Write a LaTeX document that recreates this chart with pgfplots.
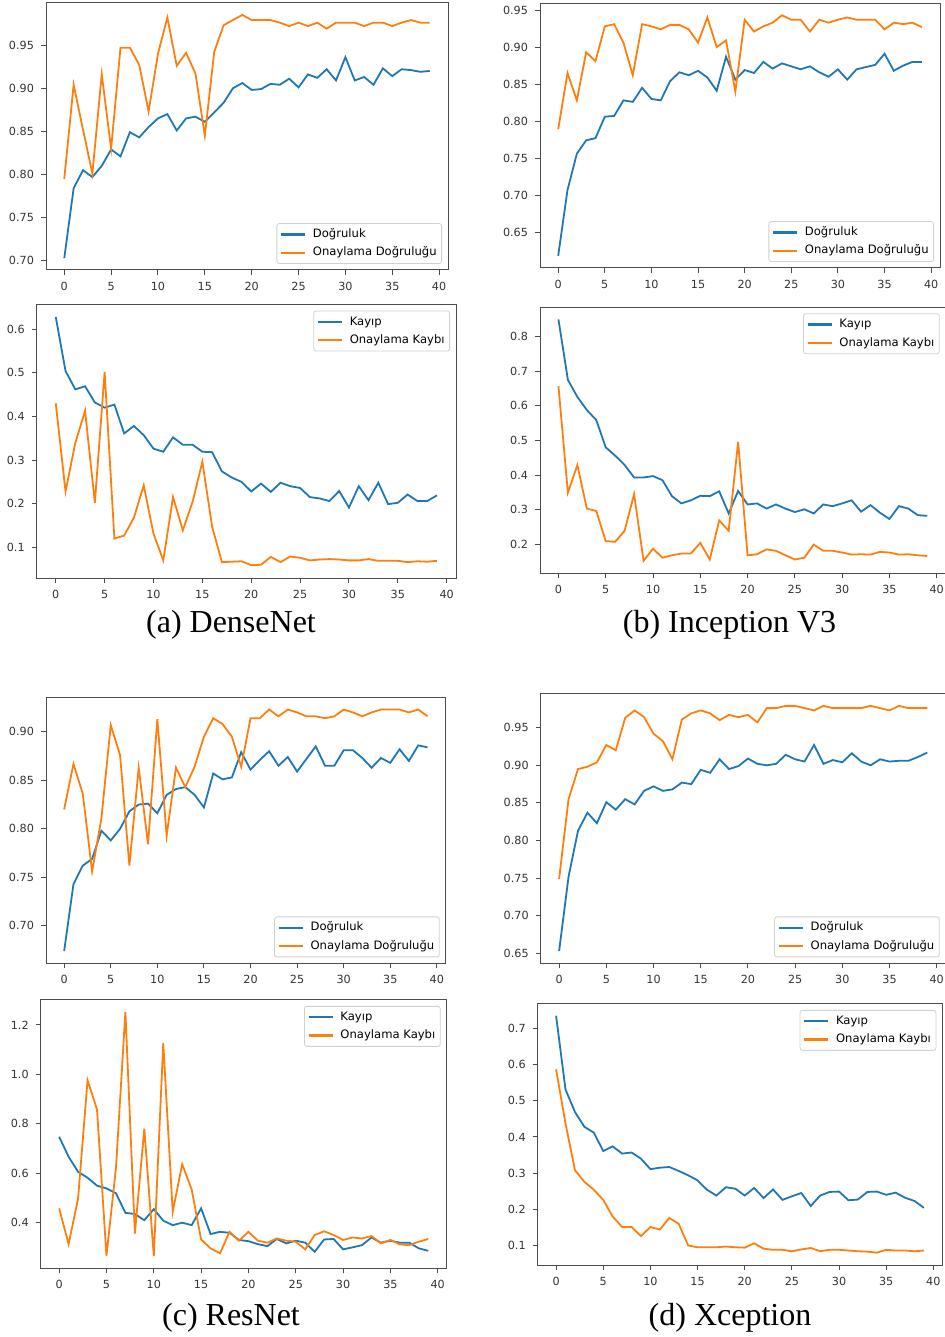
\documentclass[border=0pt]{standalone}
\usepackage{fontspec}
\setmainfont{DejaVu Sans}
\newfontfamily\capfont{Liberation Serif}
\usepackage{pgfplots}
\usepackage{pgfplotstable}
\pgfplotsset{compat=1.18}
\definecolor{mblue}{HTML}{1F77B4}
\definecolor{morange}{HTML}{FF7F0E}
\newcommand\tickfont{\fontsize{5.6}{6.7}\selectfont}
\newcommand\legfont{\fontsize{5.8}{7}\selectfont}

\pgfplotstableread{
e b o
0 0.703 0.795
1 0.784 0.904
2 0.805 0.852
3 0.797 0.801
4 0.810 0.916
5 0.829 0.830
6 0.821 0.947
7 0.849 0.947
8 0.843 0.927
9 0.855 0.873
10 0.865 0.940
11 0.870 0.982
12 0.851 0.926
13 0.865 0.941
14 0.867 0.917
15 0.861 0.845
16 0.872 0.942
17 0.883 0.973
18 0.900 0.979
19 0.906 0.985
20 0.898 0.979
21 0.899 0.979
22 0.905 0.979
23 0.904 0.976
24 0.911 0.972
25 0.901 0.976
26 0.916 0.972
27 0.912 0.976
28 0.922 0.969
29 0.909 0.976
30 0.936 0.976
31 0.909 0.976
32 0.913 0.972
33 0.904 0.976
34 0.923 0.976
35 0.914 0.972
36 0.922 0.976
37 0.921 0.979
38 0.919 0.976
39 0.920 0.976
}\tabAone

\pgfplotstableread{
e b o
0 0.628 0.430
1 0.504 0.228
2 0.462 0.339
3 0.469 0.413
4 0.432 0.202
5 0.420 0.502
6 0.427 0.120
7 0.361 0.127
8 0.378 0.168
9 0.357 0.242
10 0.326 0.131
11 0.319 0.070
12 0.352 0.215
13 0.335 0.139
14 0.335 0.204
15 0.319 0.296
16 0.318 0.147
17 0.274 0.066
18 0.260 0.067
19 0.250 0.068
20 0.228 0.059
21 0.246 0.060
22 0.227 0.078
23 0.248 0.066
24 0.240 0.079
25 0.236 0.076
26 0.215 0.070
27 0.212 0.072
28 0.206 0.073
29 0.229 0.072
30 0.191 0.070
31 0.240 0.070
32 0.208 0.073
33 0.248 0.069
34 0.199 0.069
35 0.202 0.069
36 0.221 0.066
37 0.206 0.068
38 0.206 0.067
39 0.219 0.069
}\tabAtwo

\pgfplotstableread{
e b o
0 0.618 0.789
1 0.707 0.865
2 0.756 0.828
3 0.774 0.893
4 0.777 0.881
5 0.806 0.928
6 0.807 0.931
7 0.828 0.906
8 0.826 0.862
9 0.845 0.931
10 0.830 0.928
11 0.828 0.924
12 0.854 0.930
13 0.866 0.930
14 0.862 0.924
15 0.868 0.906
16 0.859 0.940
17 0.841 0.900
18 0.887 0.909
19 0.856 0.840
20 0.869 0.937
21 0.865 0.921
22 0.880 0.928
23 0.871 0.933
24 0.878 0.943
25 0.874 0.937
26 0.870 0.937
27 0.874 0.921
28 0.866 0.937
29 0.860 0.933
30 0.870 0.937
31 0.856 0.940
32 0.870 0.937
33 0.873 0.937
34 0.876 0.937
35 0.891 0.924
36 0.868 0.933
37 0.875 0.931
38 0.880 0.933
39 0.880 0.927
}\tabBone

\pgfplotstableread{
e b o
0 0.850 0.657
1 0.675 0.349
2 0.626 0.429
3 0.588 0.303
4 0.559 0.296
5 0.480 0.209
6 0.456 0.207
7 0.429 0.239
8 0.393 0.345
9 0.393 0.152
10 0.397 0.187
11 0.385 0.161
12 0.339 0.168
13 0.318 0.173
14 0.327 0.173
15 0.340 0.204
16 0.339 0.156
17 0.353 0.269
18 0.289 0.239
19 0.354 0.496
20 0.315 0.168
21 0.318 0.171
22 0.303 0.185
23 0.315 0.181
24 0.303 0.168
25 0.293 0.156
26 0.301 0.161
27 0.289 0.199
28 0.315 0.181
29 0.310 0.181
30 0.318 0.176
31 0.327 0.170
32 0.294 0.171
33 0.313 0.170
34 0.291 0.178
35 0.273 0.176
36 0.310 0.170
37 0.303 0.171
38 0.284 0.168
39 0.282 0.166
}\tabBtwo

\pgfplotstableread{
e b o
0 0.674 0.820
1 0.743 0.867
2 0.762 0.836
3 0.769 0.756
4 0.798 0.811
5 0.788 0.907
6 0.800 0.876
7 0.818 0.762
8 0.825 0.863
9 0.826 0.784
10 0.816 0.913
11 0.835 0.793
12 0.841 0.863
13 0.843 0.843
14 0.835 0.864
15 0.822 0.895
16 0.857 0.914
17 0.851 0.908
18 0.853 0.895
19 0.879 0.864
20 0.861 0.914
21 0.871 0.914
22 0.880 0.923
23 0.865 0.916
24 0.874 0.923
25 0.859 0.920
26 0.872 0.916
27 0.885 0.916
28 0.865 0.914
29 0.865 0.916
30 0.881 0.923
31 0.881 0.920
32 0.873 0.916
33 0.863 0.920
34 0.873 0.923
35 0.868 0.923
36 0.882 0.923
37 0.870 0.920
38 0.886 0.923
39 0.884 0.916
}\tabCone

\pgfplotstableread{
e b o
0 0.747 0.457
1 0.666 0.312
2 0.605 0.497
3 0.581 0.976
4 0.549 0.857
5 0.538 0.265
6 0.518 0.619
7 0.439 1.253
8 0.434 0.355
9 0.409 0.780
10 0.454 0.264
11 0.407 1.127
12 0.389 0.443
13 0.399 0.636
14 0.389 0.534
15 0.457 0.331
16 0.353 0.295
17 0.362 0.275
18 0.358 0.362
19 0.329 0.326
20 0.324 0.362
21 0.312 0.326
22 0.304 0.318
23 0.333 0.335
24 0.315 0.326
25 0.326 0.322
26 0.318 0.291
27 0.281 0.349
28 0.331 0.364
29 0.333 0.349
30 0.291 0.329
31 0.299 0.339
32 0.308 0.335
33 0.339 0.345
34 0.318 0.315
35 0.326 0.329
36 0.318 0.311
37 0.318 0.308
38 0.295 0.322
39 0.285 0.333
}\tabCtwo

\pgfplotstableread{
e b o
0 0.653 0.749
1 0.752 0.855
2 0.813 0.895
3 0.837 0.898
4 0.823 0.904
5 0.851 0.927
6 0.841 0.920
7 0.855 0.963
8 0.848 0.973
9 0.866 0.964
10 0.872 0.942
11 0.866 0.932
12 0.868 0.908
13 0.877 0.961
14 0.875 0.969
15 0.894 0.973
16 0.890 0.969
17 0.908 0.960
18 0.895 0.967
19 0.899 0.964
20 0.909 0.967
21 0.902 0.957
22 0.900 0.976
23 0.902 0.976
24 0.914 0.979
25 0.908 0.979
26 0.905 0.976
27 0.927 0.973
28 0.902 0.979
29 0.907 0.976
30 0.904 0.976
31 0.916 0.976
32 0.905 0.976
33 0.900 0.979
34 0.908 0.976
35 0.905 0.973
36 0.906 0.979
37 0.906 0.976
38 0.911 0.976
39 0.917 0.976
}\tabDone

\pgfplotstableread{
e b o
0 0.735 0.587
1 0.531 0.437
2 0.469 0.308
3 0.428 0.276
4 0.412 0.254
5 0.361 0.226
6 0.374 0.180
7 0.354 0.151
8 0.357 0.151
9 0.340 0.126
10 0.311 0.151
11 0.315 0.144
12 0.317 0.176
13 0.306 0.160
14 0.294 0.100
15 0.280 0.095
16 0.254 0.095
17 0.238 0.095
18 0.261 0.097
19 0.257 0.095
20 0.238 0.094
21 0.259 0.106
22 0.231 0.091
23 0.255 0.088
24 0.226 0.088
25 0.236 0.084
26 0.245 0.089
27 0.209 0.093
28 0.238 0.084
29 0.248 0.088
30 0.249 0.088
31 0.225 0.086
32 0.227 0.084
33 0.248 0.083
34 0.249 0.080
35 0.240 0.088
36 0.246 0.086
37 0.232 0.086
38 0.223 0.084
39 0.204 0.086
}\tabDtwo

\pgfplotsset{
  panel/.style={
    scale only axis, anchor=south west,
    xmin=-1.95, xmax=40.95, xtick={0,5,...,40},
    tick align=outside, tick pos=left,
    major tick length=2.5pt,
    axis line style={black!70, line width=0.5pt},
    every tick/.style={black!70, line width=0.5pt},
    ticklabel style={font=\tickfont, text=black!80},
    /pgf/number format/assume math mode=true,
    legend cell align=left,
    legend image code/.code={\draw[##1, line width=1.15pt] (0pt,0pt) -- (12pt,0pt); \path (0pt,-1pt) (14.5pt,1pt);},
    legend style={font=\legfont, draw=black!18, rounded corners=1.2pt, fill=white,
      inner xsep=1.5pt, inner ysep=0.8pt, row sep=0pt,
      nodes={inner xsep=1.0pt, inner ysep=1.6pt, text height=4.6pt, text depth=1.4pt}},
  },
  accpanel/.style={panel,
    yticklabel style={/pgf/number format/fixed, /pgf/number format/fixed zerofill, /pgf/number format/precision=2},
    legend style={at={(1,0)}, anchor=south east, xshift=-3pt, yshift=3pt}},
  losspanel/.style={panel,
    yticklabel style={/pgf/number format/fixed, /pgf/number format/fixed zerofill, /pgf/number format/precision=1},
    legend style={at={(1,1)}, anchor=north east, xshift=-3pt, yshift=-3pt}},
  blueline/.style={mblue, line width=0.9pt},
  orangeline/.style={morange, line width=0.9pt},
}

\begin{document}
\begin{tikzpicture}
\path[use as bounding box] (0pt,0pt) rectangle (472pt,668.5pt);

% (a) DenseNet accuracy
\begin{axis}[accpanel, at={(23pt,533.5pt)}, width=201pt, height=133.5pt,
  ymin=0.6893, ymax=0.9988, ytick={0.70,0.75,0.80,0.85,0.90,0.95}]
\addplot[blueline] table[x=e, y=b] {\tabAone};
\addplot[orangeline] table[x=e, y=o] {\tabAone};
\legend{Doğruluk, Onaylama Doğruluğu}
\end{axis}

% (a) DenseNet loss
\begin{axis}[losspanel, at={(18.35pt,379.35pt)}, width=209.65pt, height=136.8pt,
  ymin=0.029, ymax=0.656, ytick={0.1,0.2,0.3,0.4,0.5,0.6}]
\addplot[blueline] table[x=e, y=b] {\tabAtwo};
\addplot[orangeline] table[x=e, y=o] {\tabAtwo};
\legend{Kayıp, Onaylama Kaybı}
\end{axis}

% (b) Inception accuracy
\begin{axis}[accpanel, at={(270pt,534.5pt)}, width=200pt, height=132.35pt,
  ymin=0.6016, ymax=0.9592, ytick={0.65,0.70,0.75,0.80,0.85,0.90,0.95}]
\addplot[blueline] table[x=e, y=b] {\tabBone};
\addplot[orangeline] table[x=e, y=o] {\tabBone};
\legend{Doğruluk, Onaylama Doğruluğu}
\end{axis}

% (b) Inception loss
\begin{axis}[losspanel, at={(270pt,381.85pt)}, width=202.85pt, height=133pt,
  ymin=0.116, ymax=0.885, ytick={0.2,0.3,0.4,0.5,0.6,0.7,0.8}]
\addplot[blueline] table[x=e, y=b] {\tabBtwo};
\addplot[orangeline] table[x=e, y=o] {\tabBtwo};
\legend{Kayıp, Onaylama Kaybı}
\end{axis}

% (c) ResNet accuracy
\begin{axis}[accpanel, at={(23pt,186.85pt)}, width=199.85pt, height=132.8pt,
  ymin=0.6613, ymax=0.9352, ytick={0.70,0.75,0.80,0.85,0.90}]
\addplot[blueline] table[x=e, y=b] {\tabCone};
\addplot[orangeline] table[x=e, y=o] {\tabCone};
\legend{Doğruluk, Onaylama Doğruluğu}
\end{axis}

% (c) ResNet loss
\begin{axis}[losspanel, at={(20.35pt,34.35pt)}, width=203pt, height=134.15pt,
  ymin=0.2142, ymax=1.301, ytick={0.4,0.6,0.8,1.0,1.2}]
\addplot[blueline] table[x=e, y=b] {\tabCtwo};
\addplot[orangeline] table[x=e, y=o] {\tabCtwo};
\legend{Kayıp, Onaylama Kaybı}
\end{axis}

% (d) Xception accuracy
\begin{axis}[accpanel, at={(270.35pt,186.85pt)}, width=202.5pt, height=134.65pt,
  ymin=0.6368, ymax=0.9948, ytick={0.65,0.70,0.75,0.80,0.85,0.90,0.95}]
\addplot[blueline] table[x=e, y=b] {\tabDone};
\addplot[orangeline] table[x=e, y=o] {\tabDone};
\legend{Doğruluk, Onaylama Doğruluğu}
\end{axis}

% (d) Xception loss
\begin{axis}[losspanel, at={(268.85pt,36pt)}, width=202.3pt, height=130.5pt,
  ymin=0.046, ymax=0.7676, ytick={0.1,0.2,0.3,0.4,0.5,0.6,0.7}]
\addplot[blueline] table[x=e, y=b] {\tabDtwo};
\addplot[orangeline] table[x=e, y=o] {\tabDtwo};
\legend{Kayıp, Onaylama Kaybı}
\end{axis}

\node[anchor=base, font=\capfont\fontsize{16}{19}\selectfont] at (115.5pt,352pt) {(a) DenseNet};
\node[anchor=base, font=\capfont\fontsize{16}{19}\selectfont] at (364.75pt,352pt) {(b) Inception V3};
\node[anchor=base, font=\capfont\fontsize{16}{19}\selectfont] at (115.5pt,5.5pt) {(c) ResNet};
\node[anchor=base, font=\capfont\fontsize{16}{19}\selectfont] at (365pt,5.5pt) {(d) Xception};
\end{tikzpicture}
\end{document}
